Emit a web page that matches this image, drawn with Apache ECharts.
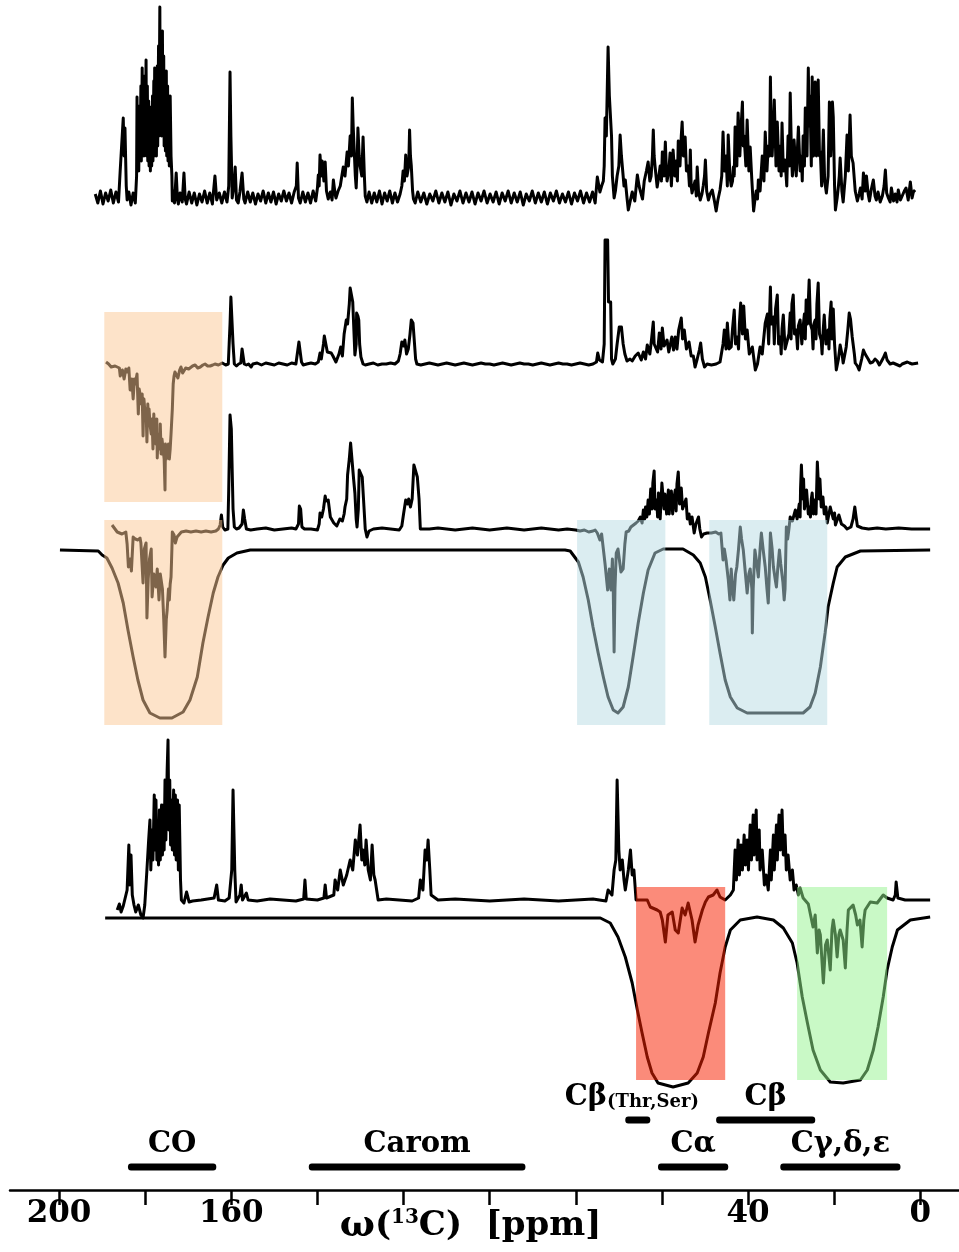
<!DOCTYPE html>
<html>
<head>
<meta charset="utf-8">
<script src="https://cdn.jsdelivr.net/npm/echarts@6/dist/echarts.min.js"></script>
<style>
  html, body { margin: 0; padding: 0; background: #fff; }
  #chart { width: 959px; height: 1252px; }
</style>
</head>
<body>
<div id="chart"></div>
<script>
// 13C spectra, [ppm, intensity (a.u.)] pairs, one array per trace
const trace1 = [[191.6,2],[191.0,-7],[190.4,5],[189.8,-8],[189.2,3],[188.6,-5],[188.0,6],[187.4,-7],[186.8,4],[186.2,-6],
[185.8,26],[185.1,78],[184.9,40],[184.7,68],[184.4,10],[184.2,-4],[183.8,4],[183.3,-9],[182.8,3],[182.3,-7],
[182.0,20],[181.9,99],[181.8,30],[181.6,85],[181.5,25],[181.3,90],[181.2,40],[181.0,110],[180.9,35],[180.7,128],[180.6,45],[180.4,115],[180.3,40],[180.1,120],[180.0,50],[179.8,136],[179.7,40],[179.5,110],[179.4,35],[179.2,95],[179.1,30],[178.9,89],[178.8,25],[178.6,80],[178.5,30],[178.3,100],[178.2,35],[178.0,115],[177.9,40],[177.8,128],[177.7,45],[177.5,110],[177.4,40],[177.2,130],[177.1,50],[176.9,150],[176.8,60],[176.6,189],[176.5,70],[176.3,150],[176.2,60],[176.0,165],[175.9,60],[175.7,140],[175.6,50],[175.4,125],[175.3,45],[175.1,125],[175.0,40],[174.8,110],[174.7,35],[174.5,100],[174.4,30],[174.2,100],[174.0,40],[173.8,20],[173.7,-5],[173.4,5],[173.2,-7],[172.8,23],[172.5,-4],[172.3,-8],[171.9,3],[171.4,-6],[171.0,23],[170.7,-3],[170.4,-8],
[169.8,4],[169.2,-7],[168.6,3],[168.0,-9],[167.4,2],[166.8,-6],[166.2,5],[165.6,-7],[165.0,3],[164.4,-8],[163.8,20],[163.4,-4],[162.8,3],[162.2,-7],[161.6,4],[161.0,-6],
[160.6,10],[160.3,124],[160.1,60],[160.0,40],[159.8,-2],[159.4,10],[159.1,29],[158.8,-4],[158.4,-7],[158.0,4],[157.5,23],[157.1,-3],[156.8,-7],
[156.2,4],[155.6,-6],[155.0,3],[154.4,-8],[153.8,2],[153.2,-5],[152.6,5],[152.0,-7],[151.4,3],[150.8,-6],[150.2,4],[149.6,-8],[149.0,2],[148.4,-5],[147.8,5],[147.2,-5],[146.6,3],[146.0,-7],[145.4,4],
[144.9,10],[144.7,33],[144.4,-2],[144.0,-7],[143.4,4],[142.8,-6],[142.2,3],[141.6,-7],[141.0,5],[140.4,-5],[140.0,8],[139.8,21],[139.6,10],[139.4,41],[139.1,20],[138.9,35],[138.5,15],[138.2,34],[137.9,5],[137.5,-3],[137.0,4],[136.6,-4],[136.3,16],[135.9,2],[135.7,-2],[135.2,5],[134.7,10],[134.3,8],[134.0,29],[133.6,20],[133.1,44],[132.8,30],[132.4,60],[132.1,40],[131.9,98],[131.7,70],[131.5,50],[131.2,20],[131.0,8],[130.8,30],[130.6,68],[130.3,40],[130.1,30],[129.7,20],[129.4,59],[129.1,20],[128.9,0],[128.5,-6],
[128.0,4],[127.4,-7],[126.8,3],[126.2,-6],[125.6,5],[125.0,-8],[124.4,3],[123.8,-5],[123.2,5],[122.6,-7],[122.0,3],[121.4,-6],[120.8,2],
[120.4,10],[120.1,25],[119.8,15],[119.5,41],[119.2,20],[119.0,20],[118.8,30],[118.6,66],[118.4,40],[118.2,30],[117.9,5],[117.7,-3],[117.3,-7],
[116.7,4],[116.0,-6],[115.3,3],[114.6,-8],[113.9,2],[113.2,-5],[112.5,5],[111.8,-7],[111.1,3],[110.4,-6],[109.7,4],[109.0,-9],[108.3,2],[107.6,-5],[106.9,5],[106.2,-7],[105.5,3],[104.8,-6],[104.1,4],[103.4,-8],[102.7,3],[102.0,-5],[101.3,5],[100.6,-7],[99.9,2],[99.2,-6],[98.5,4],[97.8,-8],[97.1,3],[96.4,-5],[95.7,5],[95.0,-7],[94.3,3],[93.6,-6],[92.9,4],[92.2,-9],[91.5,2],[90.8,-5],[90.1,5],[89.4,-7],[88.7,3],[88.0,-6],[87.3,4],[86.6,-8],[85.9,3],[85.2,-5],[84.5,5],[83.8,-7],[83.1,2],[82.4,-6],[81.7,4],[81.0,-8],[80.3,3],[79.6,-5],[78.9,5],[78.2,-7],[77.5,3],[76.8,-6],[76.1,4],[75.5,-7],
[75.0,19],[74.4,4],[74.0,10],[73.6,15],[73.4,30],[73.2,78],[72.9,60],[72.7,60],[72.5,149],[72.2,100],[72.0,100],[71.7,60],[71.5,20],[71.1,-2],[70.8,5],[70.4,20],[70.0,30],[69.7,61],[69.4,40],[69.2,30],[68.8,10],[68.5,16],[68.1,-2],[67.8,-14],[67.3,-4],[66.9,4],[66.3,-5],[65.7,21],[65.3,10],[65.0,5],[64.5,-3],[64.1,15],[63.6,25],[63.2,34],[62.8,15],[62.5,20],[62.2,40],[62.0,66],[61.8,40],[61.6,30],[61.1,9],[60.7,20],[60.4,30],[60.1,15],[59.9,44],[59.5,20],[59.2,54],[59.0,30],[58.8,15],[58.4,25],[58.1,43],[57.8,10],[57.4,46],[57.0,20],[56.7,35],[56.4,15],[56.2,55],[55.8,30],[55.5,60],[55.3,74],[55.0,40],[54.6,59],[54.3,25],[53.9,30],[53.6,10],[53.4,46],[53.2,10],[53.0,3],[52.6,10],[52.3,15],[52.0,0],[51.8,29],[51.5,5],[51.1,-4],[50.7,2],[50.4,10],[50.1,20],[49.9,36],[49.6,5],[49.2,-4],[48.8,2],[48.3,6],[47.8,-5],[47.4,-15],[47.0,-4],[46.5,6],[46.1,20],[45.8,64],[45.5,25],[45.1,40],[44.8,10],[44.6,61],[44.2,20],[43.9,10],[43.6,15],[43.4,29],[43.2,20],[43.0,69],[42.6,30],[42.3,83],[41.9,40],[41.6,70],[41.3,94],[41.1,50],[40.9,60],[40.5,30],[40.2,76],[39.8,25],[39.5,49],[39.1,15],[38.7,-15],[38.4,-4],[38.1,5],[37.8,-3],[37.6,16],[37.2,5],[36.7,40],[36.3,15],[36.0,64],[35.6,25],[35.3,50],[35.0,40],[34.8,119],[34.6,60],[34.4,40],[34.1,70],[33.9,96],[33.5,30],[33.2,74],[32.8,25],[32.5,50],[32.3,20],[32.1,73],[31.8,25],[31.4,36],[31.0,10],[30.7,60],[30.4,30],[30.2,103],[29.9,40],[29.7,20],[29.5,30],[29.3,56],[28.8,20],[28.3,69],[27.9,25],[27.6,40],[27.4,15],[27.2,60],[26.9,30],[26.7,88],[26.3,40],[26.0,128],[25.8,70],[25.6,100],[25.3,30],[25.1,119],[24.8,40],[24.4,114],[24.1,40],[23.9,90],[23.7,116],[23.4,40],[23.2,44],[22.9,10],[22.5,66],[22.2,15],[21.8,3],[21.4,20],[21.1,94],[20.8,40],[20.4,94],[20.2,79],[19.9,10],[19.7,-14],[19.3,-2],[19.0,10],[18.8,20],[18.6,38],[18.2,5],[17.9,-6],[17.4,20],[17.0,61],[16.7,25],[16.3,81],[16.0,40],[15.6,33],[15.1,5],[14.6,-5],[14.2,2],[13.9,8],[13.5,-3],[13.2,23],[12.8,5],[12.5,20],[12.1,2],[11.8,-5],[11.4,6],[10.9,16],[10.5,0],[10.2,-4],[9.8,4],[9.3,-6],[8.8,0],[8.4,10],[8.1,26],[7.8,3],[7.4,-2],[7.0,-6],[6.7,8],[6.2,-5],[5.8,2],[5.4,-6],[5.1,6],[4.6,-4],[4.2,-5],[3.7,5],[3.3,8],[2.8,-4],[2.3,14],[1.9,-2],[1.6,4],[1.2,6]];

const trace2 = [[189.1,2],[188.5,0],[187.9,-3],[187.5,-5],[187.0,-2],[186.5,-3],[186.0,-4],[185.8,-12],[185.3,-6],[184.9,-15],[184.5,-5],[184.2,-8],[183.8,-4],[183.5,-26],[183.1,-15],[182.8,-35],[182.5,-15],[182.3,-20],[181.9,-10],[181.6,-50],[181.4,-25],[181.2,-30],[180.9,-40],[180.7,-30],[180.5,-72],[180.3,-35],[180.2,-40],[180.0,-55],[179.8,-45],[179.6,-78],[179.4,-40],[179.3,-50],[179.1,-45],[178.9,-60],[178.6,-70],[178.4,-55],[178.2,-85],[178.0,-50],[177.9,-60],[177.7,-60],[177.5,-80],[177.3,-55],[177.2,-94],[177.0,-70],[176.8,-70],[176.6,-85],[176.5,-60],[176.3,-90],[176.1,-75],[175.8,-75],[175.6,-95],[175.4,-126],[175.3,-80],[175.1,-95],[174.9,-90],[174.6,-80],[174.4,-95],[174.2,-85],[174.0,-70],[173.7,-45],[173.5,-20],[173.3,-12],[173.1,-8],[172.7,-10],[172.4,-14],[172.0,-6],[171.7,-3],[171.3,-9],[171.0,-10],[170.6,-4],[170.3,-2],[169.9,-5],[169.6,-4],[169.0,-2],[168.4,-1],[167.8,-4],[167.2,-3],[166.6,-1],[166.1,0],[165.5,-2],[164.9,-2],[164.3,-1],[163.8,0],[163.0,-1],[162.1,1],[161.3,-1],[160.7,0],[160.5,20],[160.3,40],[160.1,67],[159.8,67],[159.6,20],[159.3,0],[158.8,-2],[158.3,0],[157.8,1],[157.5,15],[157.2,14],[157.0,0],[156.5,-1],[156.0,0],[155.4,-3],[155.0,0],[154.0,1],[153.0,-1],[152.0,1],[151.0,0],[150.0,-1],[149.0,1],[148.0,0],[147.0,-1],[146.0,1],[145.0,0],[144.6,2],[144.3,22],[144.0,22],[143.7,2],[143.3,-1],[142.5,0],[141.5,1],[140.5,0],[139.8,2],[139.4,11],[139.1,5],[138.6,20],[138.4,28],[138.0,28],[137.7,12],[137.3,11],[136.8,11],[136.4,8],[135.7,2],[135.0,10],[134.6,17],[134.2,8],[133.8,30],[133.3,44],[133.0,40],[132.6,60],[132.4,76],[132.1,76],[131.8,62],[131.6,62],[131.3,9],[131.0,20],[130.9,51],[130.6,48],[130.4,44],[130.2,20],[129.9,7],[129.4,0],[128.9,-1],[128.0,0],[127.0,1],[126.0,-1],[125.0,0],[124.0,0],[123.0,1],[122.0,0],[121.2,3],[120.8,10],[120.4,22],[120.0,18],[119.7,24],[119.3,10],[118.9,15],[118.5,30],[118.2,44],[117.8,41],[117.5,41],[117.2,5],[116.9,0],[116.0,-1],[115.0,0],[114.0,1],[113.0,0],[112.0,-1],[111.0,0],[110.0,1],[109.0,0],[108.0,-1],[107.0,0],[106.0,1],[105.0,0],[104.0,-1],[103.0,0],[102.0,1],[101.0,0],[100.0,0],[99.0,-1],[98.0,0],[97.0,1],[96.0,0],[95.0,-1],[94.0,0],[93.0,1],[92.0,0],[91.0,0],[90.0,-1],[89.0,0],[88.0,1],[87.0,0],[86.0,-1],[85.0,0],[84.0,1],[83.0,0],[82.0,0],[81.0,-1],[80.0,0],[79.0,1],[78.0,0],[77.0,-1],[76.0,0],[75.2,2],[74.9,11],[74.5,4],[73.8,2],[73.4,20],[73.2,124],[72.6,124],[72.4,62],[71.9,62],[71.7,5],[71.4,0],[70.8,5],[70.4,20],[69.9,37],[69.4,37],[69.0,20],[68.6,10],[68.1,3],[67.4,5],[66.9,3],[66.2,8],[65.5,11],[64.8,4],[64.3,12],[63.8,5],[63.4,19],[62.8,10],[62.4,25],[62.0,42],[61.8,20],[61.5,21],[61.0,12],[60.6,31],[60.2,15],[59.9,36],[59.5,18],[58.8,24],[58.4,12],[57.7,27],[57.3,14],[56.9,27],[56.5,15],[56.1,34],[55.5,46],[55.2,25],[54.8,34],[54.3,15],[54.0,17],[53.7,22],[53.2,8],[52.7,8],[52.3,-3],[51.8,5],[51.3,14],[51.0,21],[50.6,5],[50.1,-3],[49.5,0],[48.5,-1],[47.4,0],[46.5,2],[45.8,20],[45.5,34],[45.1,15],[44.8,41],[44.4,15],[43.9,17],[43.6,35],[43.2,54],[42.9,20],[42.5,27],[42.2,15],[42.0,40],[41.7,61],[41.3,30],[41.0,58],[40.6,25],[40.2,34],[39.7,10],[39.0,17],[38.3,-6],[37.8,0],[37.2,17],[36.7,10],[36.0,41],[35.5,50],[35.2,20],[34.8,77],[34.6,40],[34.1,47],[33.9,20],[33.6,55],[33.2,69],[32.9,20],[32.5,27],[32.3,10],[32.1,35],[31.8,49],[31.4,15],[31.0,17],[30.5,30],[30.2,51],[30.0,25],[29.8,60],[29.5,69],[29.2,30],[28.8,34],[28.5,15],[28.3,38],[27.9,44],[27.5,20],[27.2,37],[26.9,50],[26.7,25],[26.5,64],[26.2,40],[25.8,84],[25.5,40],[25.1,34],[24.9,15],[24.7,40],[24.4,44],[24.2,25],[24.0,60],[23.7,81],[23.4,30],[23.0,24],[22.8,10],[22.6,30],[22.3,49],[21.9,20],[21.4,34],[21.2,15],[21.0,45],[20.7,62],[20.5,25],[20.2,55],[19.9,20],[19.5,-6],[19.0,5],[18.6,19],[18.1,8],[17.9,1],[17.5,10],[17.2,17],[16.8,35],[16.5,51],[16.2,45],[15.8,27],[15.3,10],[15.1,1],[14.6,-2],[14.2,-6],[13.6,5],[13.2,14],[12.8,10],[12.5,11],[12.1,5],[11.6,1],[11.0,2],[10.5,5],[10.0,3],[9.5,-1],[9.1,2],[8.6,6],[8.1,11],[7.7,4],[7.0,0],[6.3,1],[4.7,-2],[4.2,0],[3.0,2],[2.5,1],[1.9,0],[0.5,1]];

const trace3 = [[187.7,4],[186.5,-3],[185.4,-5],[184.5,-3],[184.2,-15],[183.9,-38],[183.5,-30],[183.2,-42],[182.8,-8],[182.3,-10],[181.7,-11],[181.2,-9],[181.0,-14],[180.5,-54],[180.2,-20],[179.8,-14],[179.6,-89],[179.3,-50],[179.0,-30],[178.6,-20],[178.4,-68],[178.0,-45],[177.5,-58],[177.2,-40],[176.8,-71],[176.5,-45],[176.3,-51],[176.0,-60],[175.7,-90],[175.4,-128],[175.1,-90],[174.9,-81],[174.6,-60],[174.4,-71],[174.2,-55],[174.0,-48],[173.8,-20],[173.7,-3],[173.3,-6],[173.0,-14],[172.6,-8],[172.3,-6],[171.6,-3],[170.5,-2],[169.4,-3],[168.2,-2],[167.0,-3],[165.9,-2],[164.7,-3],[163.6,-2],[163.0,0],[162.6,4],[162.3,14],[162.0,2],[161.5,-1],[160.8,0],[160.6,40],[160.3,114],[160.0,100],[159.8,59],[159.6,20],[159.3,2],[158.8,0],[158.2,1],[157.5,5],[157.2,19],[156.9,10],[156.5,0],[155.5,-1],[154.0,0],[152.0,1],[150.0,-1],[148.0,0],[146.0,1],[145.0,0],[144.4,5],[144.2,23],[143.9,20],[143.6,2],[143.0,0],[141.5,0],[140.0,-1],[139.6,5],[139.4,16],[139.0,12],[138.6,20],[138.2,33],[138.0,28],[137.5,29],[137.0,12],[136.7,12],[136.2,6],[135.5,3],[134.8,10],[134.2,8],[133.8,15],[133.6,22],[133.2,30],[133.0,54],[132.6,70],[132.3,86],[132.0,86],[131.6,50],[131.3,36],[131.0,10],[130.8,2],[130.5,20],[130.3,59],[129.9,59],[129.6,52],[129.3,30],[128.9,0],[128.5,-8],[128.0,-2],[127.0,0],[125.0,1],[123.0,0],[121.0,-1],[120.4,3],[120.0,15],[119.5,29],[119.1,25],[118.8,30],[118.4,22],[118.0,30],[117.6,64],[117.2,64],[116.8,52],[116.4,30],[116.1,0],[115.7,-2],[114.0,0],[112.0,1],[110.0,0],[108.0,-1],[106.0,0],[104.0,1],[102.0,0],[100.0,-1],[98.0,0],[96.0,1],[94.0,0],[92.0,-1],[90.0,0],[88.0,1],[86.0,0],[84.0,-1],[82.0,0],
[80.0,-1],[79.0,-2],[78.0,-1],[77.0,-3],[76.0,-2],[75.5,-1],[75.0,-4],[74.4,-11],[74.0,-5],[73.6,-20],[73.2,-35],[72.6,-61],[72.2,-40],[72.0,-55],[71.8,-61],[71.5,-30],[71.3,-60],[71.1,-123],[70.9,-60],[70.6,-24],[70.2,-20],[69.9,-30],[69.5,-43],[69.0,-40],[68.6,-15],[68.3,-3],[67.7,-2],[67.2,2],[66.6,4],[66.0,6],[65.5,8],[65.0,12],[64.6,6],[64.3,19],[64.0,10],[63.8,22],[63.5,12],[63.2,29],[62.9,15],[62.6,40],[62.3,20],[62.1,46],[61.8,58],[61.6,20],[61.2,29],[61.0,12],[60.8,36],[60.4,10],[60.0,46],[59.7,48],[59.5,20],[59.3,35],[58.9,15],[58.5,39],[58.3,15],[58.1,30],[57.8,38],[57.5,15],[57.3,28],[56.9,39],[56.7,18],[56.5,45],[56.2,57],[55.9,25],[55.5,41],[55.2,20],[54.8,22],[54.4,30],[54.1,10],[53.7,15],[53.4,5],[53.0,12],[52.5,-4],[52.1,5],[51.5,12],[51.2,0],[50.8,-8],[50.3,-5],[49.5,-4],[48.5,-4],[47.5,-3],[46.8,-5],[46.3,-4],[45.8,-31],[45.5,-20],[45.1,-31],[44.6,-50],[44.2,-71],[43.9,-40],[43.6,-60],[43.3,-71],[42.9,-45],[42.6,-38],[42.2,-20],[41.8,2],[41.5,-10],[41.1,-21],[40.7,-40],[40.2,-64],[39.8,-45],[39.5,-40],[39.1,-60],[39.0,-104],[38.8,-60],[38.4,-21],[38.1,-30],[37.6,-48],[37.2,-20],[36.9,-4],[36.5,-20],[36.0,-38],[35.6,-60],[35.3,-74],[35.1,-50],[34.8,-4],[34.4,-20],[34.1,-38],[33.7,-50],[33.4,-58],[33.1,-40],[32.7,-21],[32.4,-35],[31.9,-53],[31.6,-71],[31.4,-60],[31.1,2],[30.8,-10],[30.5,0],[30.2,12],[29.7,8],[29.0,19],[28.6,10],[28.1,25],[27.9,12],[27.8,40],[27.6,64],[27.3,30],[27.1,50],[26.9,20],[26.5,32],[26.4,39],[26.0,15],[25.8,22],[25.5,12],[25.3,30],[25.1,36],[24.8,15],[24.6,29],[24.2,15],[23.9,67],[23.5,30],[23.3,50],[23.0,22],[22.6,32],[22.3,15],[21.9,22],[21.6,6],[20.9,22],[20.2,10],[19.9,16],[19.7,4],[19.3,6],[18.9,14],[18.3,5],[17.6,3],[17.0,0],[16.1,2],[15.6,10],[15.2,22],[14.9,12],[14.6,3],[13.5,1],[12.0,0],[10.0,1],[8.0,0],[5.0,1],[2.0,0],[0.0,0],[-2.3,0]];

const trace4 = [[186.5,-10],[186.0,-4],[185.6,-12],[185.1,-6],[184.7,-8],[184.2,10],[183.8,55],[183.6,15],[183.3,45],[183.0,5],[182.6,-5],[182.2,-12],[181.6,-5],[181.0,-15],[180.5,-18],[180.1,-5],[179.6,30],[179.2,60],[178.9,80],[178.7,30],[178.4,70],[178.2,40],[177.9,105],[177.7,50],[177.5,100],[177.3,40],[177.1,70],[176.9,35],[176.7,90],[176.5,40],[176.2,95],[176.0,45],[175.8,95],[175.6,50],[175.4,120],[175.2,60],[174.9,130],[174.7,160],[174.5,70],[174.3,120],[174.1,55],[173.9,100],[173.7,50],[173.4,110],[173.2,45],[173.0,105],[172.8,40],[172.5,100],[172.3,30],[172.1,95],[171.8,20],[171.6,0],[171.0,-3],[170.4,8],[169.8,-2],[169.0,-1],[167.0,0],[164.0,2],[163.4,15],[163.0,0],[161.5,-1],[160.5,2],[159.9,30],[159.6,110],[159.2,30],[158.9,-2],[158.0,5],[157.7,15],[157.4,0],[156.5,7],[156.1,0],[154.0,-1],[151.0,1],[148.0,0],[145.0,-1],[143.2,1],[142.9,20],[142.6,1],[140.0,0],[138.5,2],[138.2,15],[137.9,2],[136.2,5],[135.9,20],[135.3,10],[134.7,30],[134.0,15],[133.2,25],[132.4,40],[131.8,30],[131.2,60],[130.7,45],[130.1,75],[129.7,40],[129.4,50],[129.0,35],[128.7,60],[128.2,30],[127.7,20],[127.3,55],[126.9,25],[126.6,20],[125.9,0],[124.0,1],[121.0,0],[118.0,-1],[116.5,2],[116.1,20],[115.5,10],[115.0,50],[114.6,40],[114.3,60],[113.9,30],[113.6,5],[112.0,0],[108.0,1],[104.0,0],[100.0,-1],[96.0,0],[92.0,1],[88.0,0],[84.0,-1],[80.0,0],[76.0,1],[73.0,-1],[72.5,10],[71.6,5],[71.1,30],[70.7,40],[70.4,120],[70.0,50],[69.7,30],[69.2,40],[68.8,20],[68.5,10],[67.8,30],[67.3,50],[66.9,25],[66.5,30],[66.0,0],
[65.7,2],[63.4,0],[62.7,-7],[61.1,-10],[60.4,-12],[59.9,-20],[59.2,-42],[58.6,-15],[57.6,-12],[56.9,-30],[56.2,-33],[55.3,-8],[54.6,-15],[53.9,-3],[53.0,-20],[52.3,-42],[51.6,-25],[50.6,-10],[49.9,-2],[49.2,3],[48.1,5],[47.2,10],[46.5,3],[45.3,0],
[44.1,5],[43.4,10],[43.0,50],[42.7,20],[42.3,60],[42.0,25],[41.6,55],[41.3,30],[40.9,65],[40.6,35],[40.2,60],[39.9,30],[39.5,75],[39.2,40],[38.8,85],[38.6,45],[38.1,90],[37.9,40],[37.4,70],[37.2,30],[36.7,50],[36.2,15],[35.8,25],[35.3,10],[34.8,50],[34.6,20],[34.1,65],[33.9,30],[33.4,75],[33.2,40],[32.8,85],[32.5,50],[32.1,90],[31.8,45],[31.4,65],[31.1,30],[30.7,45],[30.2,20],[29.7,30],[29.3,10],[28.8,15],[28.3,5],
[27.9,12],[27.2,2],[26.0,-4],[24.9,-27],[24.4,-15],[23.9,-53],[23.5,-30],[23.2,-35],[22.5,-83],[22.0,-45],[21.6,-40],[20.9,-70],[20.5,-30],[20.2,-20],[19.7,-35],[19.3,-57],[18.9,-35],[18.6,-30],[17.9,-40],[17.4,-68],[17.0,-30],[16.7,-10],[15.6,-5],[15.0,-15],[14.6,-25],[14.0,-20],[13.5,-47],[13.1,-20],[12.8,-10],[11.6,-2],[10.0,-3],[8.6,5],[7.7,2],[6.3,0],[5.8,5],[5.6,18],[5.2,2],[3.5,0],[-2.3,0]];

// excitation profiles of the selective pulses
const profile1 = [[199.8,0],[190.9,-1],[190.0,-5],[188.9,-8],[187.7,-18],[186.3,-33],[185.1,-53],[184.0,-80],[182.8,-107],[181.7,-130],[180.5,-150],[178.9,-163],[176.6,-168],[173.8,-168],[171.2,-162],[169.6,-150],[167.9,-127],[166.6,-93],[165.4,-67],[164.2,-43],[163.1,-27],[161.9,-15],[160.7,-8],[158.7,-3],[155.6,0],[82.5,0],[81.3,-1],[79.4,-12],[78.3,-27],[77.1,-50],[76.0,-77],[74.8,-103],[73.6,-127],[72.5,-147],[71.3,-160],[70.2,-163],[69.0,-157],[67.8,-137],[66.7,-107],[65.5,-73],[64.3,-43],[63.2,-20],[61.6,-3],[59.7,1],[55.1,1],[52.7,-5],[51.1,-13],[49.9,-27],[48.8,-50],[47.6,-77],[46.5,-103],[45.3,-130],[44.1,-147],[42.5,-158],[40.2,-163],[27.2,-163],[25.6,-157],[24.4,-143],[23.2,-117],[22.1,-83],[21.4,-57],[20.2,-33],[19.3,-17],[17.4,-7],[13.9,-1],[-2.3,0]];

const profile2 = [[189.3,0],[74.3,0],[72.0,-5],[70.2,-19],[68.5,-39],[66.9,-65],[65.7,-92],[64.6,-115],[63.4,-139],[62.3,-155],[60.9,-165],[57.4,-169],[53.9,-165],[51.8,-155],[50.4,-139],[49.2,-115],[47.6,-85],[46.5,-55],[45.3,-29],[44.1,-12],[41.8,-2],[37.9,1],[34.1,-2],[31.8,-10],[29.7,-25],[28.6,-45],[27.4,-79],[26.2,-105],[24.9,-132],[23.2,-152],[20.9,-164],[17.9,-165],[13.9,-162],[12.3,-152],[10.9,-132],[9.8,-109],[8.6,-79],[7.7,-52],[6.5,-29],[5.3,-12],[2.3,-2],[-2.3,1]];

// highlighted excitation windows, ppm [from, to]
const windowsTop = [[189.5, 162.1]];
const windowsMid = [[189.5, 162.1], [79.7, 59.2], [49.0, 21.6]];
const windowsLow = [[66.0, 45.3], [28.6, 7.7]];
const windowColors = {
  orange: 'rgba(251,200,148,0.5)',
  blue: 'rgba(183,219,227,0.5)',
  red: 'rgba(247,32,0,0.52)',
  green: 'rgba(147,243,141,0.5)'
};
const windowsTopColors = ['orange'];
const windowsMidColors = ['orange', 'blue', 'blue'];
const windowsLowColors = ['red', 'green'];

// assignment regions along the ppm axis
const regionNames = ['CO', 'Carom', 'Cβ(Thr,Ser)', 'Cβ', 'Cα', 'Cγ,δ,ε'];
const regionFrom = [184.0, 142.0, 68.5, 47.4, 60.9, 32.5];
const regionTo = [163.5, 91.7, 62.7, 24.4, 44.6, 4.6];
const regionRow = [0, 0, 1, 1, 0, 0];

// axis ticks
const tickValues = [0, 20, 40, 60, 80, 100, 120, 140, 160, 180, 200];
const tickLabelValues = [0, 40, 160, 200];

const FONT = 'DejaVu Serif';
const PPM_MIN = -9, PPM_MAX = 211.4;
const LINE_W = 3;

const grids = [];
const xAxes = [];
const yAxes = [];
function panel(top, height, yMin, yMax) {
  const i = grids.length;
  grids.push({ left: 10, right: 0, top: top, height: height, outerBoundsMode: 'none', containLabel: false });
  xAxes.push({ gridIndex: i, type: 'value', min: PPM_MIN, max: PPM_MAX, inverse: true, show: false });
  yAxes.push({ gridIndex: i, type: 'value', min: yMin, max: yMax, show: false });
  return i;
}

const pT1 = panel(0, 230, -34, 196);
const pT2 = panel(230, 280, -146, 134);
const pT3 = panel(400, 280, -151, 129);
const pP1 = panel(520, 220, -190, 30);
const pT4 = panel(700, 320, -120, 200);
const pP2 = panel(880, 220, -182, 38);
const pWTop = panel(312, 190, 0, 1);
const pWMid = panel(520, 205, 0, 1);
const pWLow = panel(887, 193, 0, 1);
const pReg = panel(1120, 47, 0, 1);
const pAxis = panel(1100, 90, 0, 1);

// visible ppm axis
xAxes[pAxis] = {
  gridIndex: pAxis, type: 'value', min: PPM_MIN, max: PPM_MAX, inverse: true,
  position: 'bottom',
  axisLine: { show: true, lineStyle: { color: '#000', width: 2.5 } },
  axisTick: { show: true, inside: false, length: 15, customValues: tickValues, lineStyle: { color: '#000', width: 2.5 } },
  axisLabel: {
    show: true, customValues: tickLabelValues, margin: 8,
    color: '#000', fontFamily: FONT, fontWeight: 'bold', fontSize: 31
  },
  splitLine: { show: false },
  name: '{w|ω}{t|(}{s|13}{t|C)  [ppm]}',
  nameLocation: 'middle',
  nameGap: 18,
  nameMoveOverlap: false,
  nameTextStyle: {
    padding: [0, 28, 0, 0],
    verticalAlign: 'top',
    rich: {
      w: { fontFamily: FONT, fontWeight: 'bold', fontSize: 37, color: '#000' },
      t: { fontFamily: FONT, fontWeight: 'bold', fontSize: 34, color: '#000' },
      s: { fontFamily: FONT, fontWeight: 'bold', fontSize: 20, color: '#000', verticalAlign: 'top', padding: [0, 0, 16, 0] }
    }
  }
};

function traceSeries(idx, data) {
  return {
    type: 'line', xAxisIndex: idx, yAxisIndex: idx, data: data,
    showSymbol: false, symbol: 'none', z: 2, silent: true,
    lineStyle: { color: '#000', width: LINE_W, join: 'round' }
  };
}

function windowSeries(idx, ranges, colors) {
  return {
    type: 'custom', xAxisIndex: idx, yAxisIndex: idx, z: 10, silent: true,
    data: ranges.map((r, k) => [r[0], r[1], k]),
    renderItem: function (params, api) {
      const a = api.coord([api.value(0), 1]);
      const b = api.coord([api.value(1), 0]);
      const k = api.value(2);
      return {
        type: 'rect',
        shape: { x: Math.min(a[0], b[0]), y: Math.min(a[1], b[1]), width: Math.abs(b[0] - a[0]), height: Math.abs(b[1] - a[1]) },
        style: { fill: windowColors[colors[k]] }
      };
    }
  };
}

const regionSeries = {
  type: 'custom', xAxisIndex: pReg, yAxisIndex: pReg, z: 5, silent: true,
  data: regionNames.map((n, k) => [regionFrom[k], regionTo[k], regionRow[k], k]),
  renderItem: function (params, api) {
    const a = api.coord([api.value(0), api.value(2)]);
    const b = api.coord([api.value(1), api.value(2)]);
    const k = api.value(3);
    const name = regionNames[k];
    let cx = (a[0] + b[0]) / 2;
    let text = '{m|' + name + '}';
    if (name === 'Cβ(Thr,Ser)') { text = '{m|Cβ}{s|(Thr,Ser)}'; cx -= 6; }
    return {
      type: 'group',
      children: [
        { type: 'rect', shape: { x: Math.min(a[0], b[0]), y: a[1] - 3.5, width: Math.abs(b[0] - a[0]), height: 7, r: 3 }, style: { fill: '#000' } },
        { type: 'text', x: cx, y: a[1] - 8,
          style: {
            text: text, align: 'center', verticalAlign: 'bottom',
            rich: {
              m: { fontFamily: FONT, fontWeight: 'bold', fontSize: 29, fill: '#000', color: '#000' },
              s: { fontFamily: FONT, fontWeight: 'bold', fontSize: 18, fill: '#000', color: '#000', padding: [10, 0, 0, 0] }
            }
          } }
      ]
    };
  }
};

const chart = echarts.init(document.getElementById('chart'), null, { renderer: 'canvas' });
chart.setOption({
  animation: false,
  backgroundColor: '#fff',
  grid: grids,
  xAxis: xAxes,
  yAxis: yAxes,
  series: [
    traceSeries(pT1, trace1),
    traceSeries(pT2, trace2),
    traceSeries(pT3, trace3),
    traceSeries(pP1, profile1),
    traceSeries(pT4, trace4),
    traceSeries(pP2, profile2),
    windowSeries(pWTop, windowsTop, windowsTopColors),
    windowSeries(pWMid, windowsMid, windowsMidColors),
    windowSeries(pWLow, windowsLow, windowsLowColors),
    regionSeries
  ]
});
</script>
</body>
</html>
